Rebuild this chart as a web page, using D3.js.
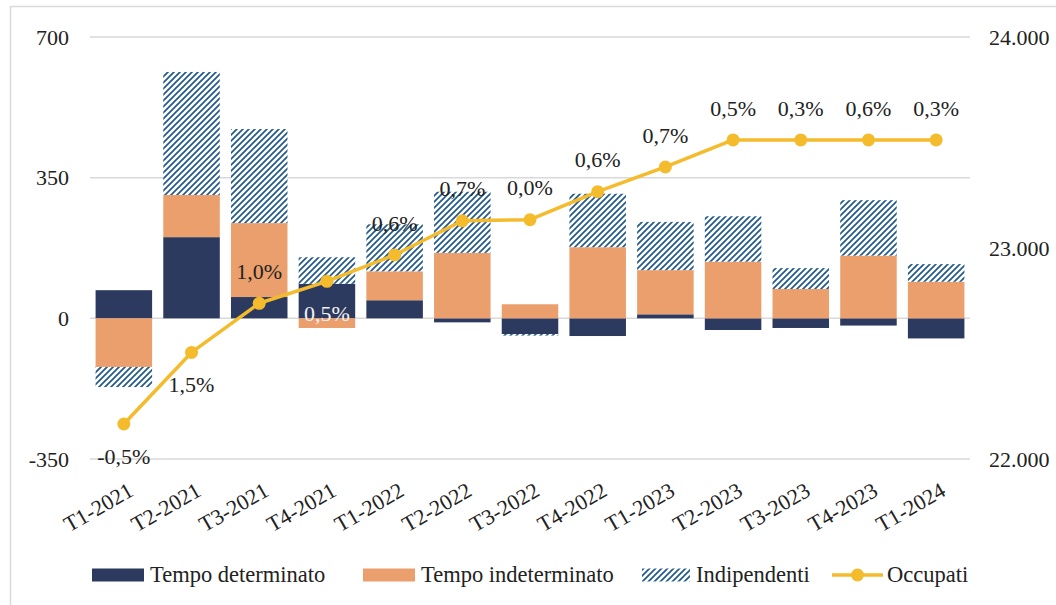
<!DOCTYPE html>
<html><head><meta charset="utf-8">
<script src="https://cdn.jsdelivr.net/npm/d3@7"></script>
<style>body{margin:0;background:#fff}svg{display:block}</style>
</head><body><svg id="c" width="1056" height="605"></svg>
<script>
const categories = ["T1-2021","T2-2021","T3-2021","T4-2021","T1-2022","T2-2022","T3-2022","T4-2022","T1-2023","T2-2023","T3-2023","T4-2023","T1-2024"];
const tempoDeterminato = [70, 202, 53, 86, 45, -10, -39, -44, 10, -29, -24, -18, -50];
const tempoIndeterminato = [-121, 105, 184, -24, 72, 163, 35, 177, 110, 141, 73, 156, 91];
const indipendenti = [-50, 306, 234, 66, 117, 152, -4, 133, 120, 113, 52, 138, 44];
const occupati = [22166, 22505, 22738, 22842, 22967, 23129, 23134, 23267, 23384, 23512, 23512, 23512, 23512];
const variazioni = ["-0,5%","1,5%","1,0%","0,5%","0,6%","0,7%","0,0%","0,6%","0,7%","0,5%","0,3%","0,6%","0,3%"];
const labelSide = ["below","below","above","below","above","above","above","above","above","above","above","above","above"];
const leftTicks = [-350, 0, 350, 700];
const rightTicks = [22000, 23000, 24000];
const seriesNames = ["Tempo determinato","Tempo indeterminato","Indipendenti","Occupati"];

const FONT = "Liberation Serif, Times New Roman, serif";
const C_DARK = "#2d3a5f", C_ORANGE = "#eb9f6c", C_HATCH = "#215a8a", C_LINE = "#f4bb2c";

const svg = d3.select("#c");
const defs = svg.append("defs");
const pat = defs.append("pattern").attr("id","hatch").attr("patternUnits","userSpaceOnUse")
  .attr("width",6).attr("height",6);
pat.append("rect").attr("width",6).attr("height",6).attr("fill","#fff");
pat.append("path").attr("d","M0,6 L6,0 M-1.5,1.5 L1.5,-1.5 M4.5,7.5 L7.5,4.5")
  .attr("stroke",C_HATCH).attr("stroke-width",1.7);

// border
svg.append("rect").attr("x",10.5).attr("y",6.5).attr("width",1200).attr("height",800)
  .attr("fill","none").attr("stroke","#d9d9d9").attr("stroke-width",1.5);

const x = d3.scaleBand().domain(categories).range([90, 970]).paddingInner(0.165).paddingOuter(0.0825);
const y = d3.scaleLinear().domain([-350, 700]).range([459, 37]);
const y2 = d3.scaleLinear().domain([22000, 24000]).range([459, 37]);

// gridlines
svg.append("g").selectAll("line").data(leftTicks).join("line")
  .attr("x1",90).attr("x2",970).attr("y1",d=>y(d)).attr("y2",d=>y(d))
  .attr("stroke","#d9d9d9").attr("stroke-width",1.5);

// left axis
const yAxis = d3.axisLeft(y).tickValues(leftTicks).tickSize(0).tickPadding(0).tickFormat(d => String(d));
const gL = svg.append("g").attr("transform","translate(69,0)").call(yAxis);
gL.select(".domain").remove();
gL.selectAll("text").attr("font-family",FONT).attr("font-size",22).attr("fill","#222").attr("dy","0.33em");

// right axis
const itFmt = d3.formatLocale({decimal:",",thousands:".",grouping:[3],currency:["","€"],minus:"-"}).format(",d");
const yAxisR = d3.axisRight(y2).tickValues(rightTicks).tickSize(0).tickPadding(0).tickFormat(itFmt);
const gR = svg.append("g").attr("transform","translate(989,0)").call(yAxisR);
gR.select(".domain").remove();
gR.selectAll("text").attr("font-family",FONT).attr("font-size",22).attr("fill","#222").attr("dy","0.33em");

// stacked bars
const rows = categories.map((c,i)=>({cat:c, det:tempoDeterminato[i], ind:tempoIndeterminato[i], aut:indipendenti[i]}));
const stack = d3.stack().keys(["det","ind","aut"]).offset(d3.stackOffsetDiverging);
const series = stack(rows);
const fills = {det:C_DARK, ind:C_ORANGE, aut:"url(#hatch)"};
const barG = svg.append("g");
series.forEach(s=>{
  barG.append("g").selectAll("rect").data(s).join("rect")
    .attr("x",d=>x(d.data.cat)).attr("width",x.bandwidth())
    .attr("y",d=>y(Math.max(d[0],d[1]))).attr("height",d=>Math.abs(y(d[0])-y(d[1])))
    .attr("fill",fills[s.key]);
});

// x labels
const cx = c => x(c) + x.bandwidth()/2;
svg.append("g").selectAll("text").data(categories).join("text")
  .attr("transform",c=>`translate(${cx(c)+3},481) rotate(-30)`)
  .attr("text-anchor","end").attr("dy","0.72em")
  .attr("font-family",FONT).attr("font-size",22).attr("fill","#222").text(c=>c);

// line
const line = d3.line().x((d,i)=>cx(categories[i])).y(d=>y2(d));
svg.append("path").datum(occupati).attr("d",line).attr("fill","none")
  .attr("stroke",C_LINE).attr("stroke-width",3.5).attr("stroke-linejoin","round");
svg.append("g").selectAll("circle").data(occupati).join("circle")
  .attr("cx",(d,i)=>cx(categories[i])).attr("cy",d=>y2(d)).attr("r",6.5).attr("fill",C_LINE);

// line labels
svg.append("g").selectAll("text").data(variazioni).join("text")
  .each(function(t,i){
    const px = cx(categories[i]);
    const py = y2(occupati[i]) + (labelSide[i]==="below" ? 32 : -32);
    const det = tempoDeterminato[i];
    const top = y(Math.max(0,det)), bot = y(Math.min(0,det));
    const inside = py > top && py < bot;
    d3.select(this).attr("x",px).attr("y",py).attr("dy","0.35em").attr("text-anchor","middle")
      .attr("font-family",FONT).attr("font-size",22).attr("fill",inside?"#f2f2f2":"#222").text(t);
  });

// legend
const leg = svg.append("g");
const legItems = [
  {name:seriesNames[0], x:92, type:"rect", fill:C_DARK},
  {name:seriesNames[1], x:363, type:"rect", fill:C_ORANGE},
  {name:seriesNames[2], x:642, type:"rect", fill:"url(#hatch)", w:48},
  {name:seriesNames[3], x:832, type:"line"}
];
legItems.forEach(it=>{
  const ly = 575;
  if(it.type==="rect"){
    const w = it.w||52;
    leg.append("rect").attr("x",it.x).attr("y",ly-6.5).attr("width",w).attr("height",13).attr("fill",it.fill);
    leg.append("text").attr("x",it.x+w+6).attr("y",ly).attr("dy","0.33em")
      .attr("font-family",FONT).attr("font-size",22.5).attr("fill","#222").text(it.name);
  } else {
    leg.append("line").attr("x1",it.x).attr("x2",it.x+51).attr("y1",ly).attr("y2",ly)
      .attr("stroke",C_LINE).attr("stroke-width",3.5);
    leg.append("circle").attr("cx",it.x+25.5).attr("cy",ly).attr("r",6.5).attr("fill",C_LINE);
    leg.append("text").attr("x",it.x+55).attr("y",ly).attr("dy","0.33em")
      .attr("font-family",FONT).attr("font-size",22.5).attr("fill","#222").text(it.name);
  }
});
</script></body></html>
